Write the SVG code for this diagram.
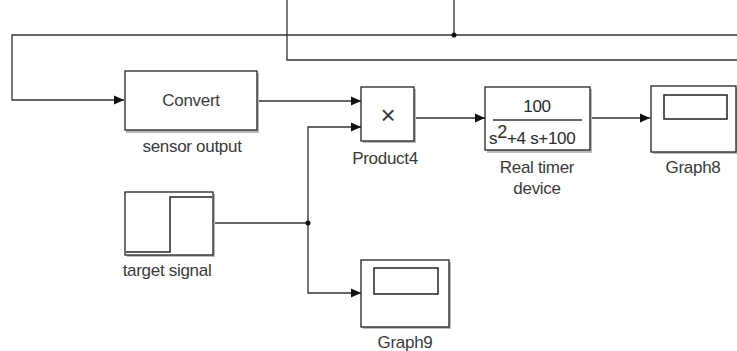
<svg xmlns="http://www.w3.org/2000/svg" width="737" height="351" viewBox="0 0 737 351">
<defs>
<marker id="arr" markerUnits="userSpaceOnUse" markerWidth="11" markerHeight="10" refX="10" refY="5" orient="auto">
<path d="M0,0.5 L10,5 L0,9.5 z" fill="#111"/>
</marker>
<style>
.blk{fill:#fff;stroke:#222;stroke-width:1.3}
.sh{fill:#bbb}
.ln{fill:none;stroke:#333;stroke-width:1.3}
.t{font-family:"Liberation Sans",Arial,sans-serif;font-size:17px;fill:#3a3a3a;text-anchor:middle;letter-spacing:-0.3px}
.f{font-family:"Liberation Sans",Arial,sans-serif;font-size:17px;fill:#2a2a2a;letter-spacing:-0.3px}
</style>
</defs>
<rect width="737" height="351" fill="#fff"/>
<g id="connectors">
<path class="ln" d="M287,0 V60 H737"/>
<path class="ln" d="M454,0 V35"/>
<path class="ln" d="M737,35 H12 V100 H124" marker-end="url(#arr)"/>
<path class="ln" d="M257,101 H361" marker-end="url(#arr)"/>
<path class="ln" d="M213,223 H308"/>
<path class="ln" d="M308,223 V127 H361" marker-end="url(#arr)"/>
<path class="ln" d="M308,223 V293 H361" marker-end="url(#arr)"/>
<path class="ln" d="M414,118 H485" marker-end="url(#arr)"/>
<path class="ln" d="M590,118 H650" marker-end="url(#arr)"/>
<circle cx="454" cy="35" r="2.5" fill="#111"/>
<circle cx="308" cy="223" r="2.5" fill="#111"/>
</g>
<g id="convert">
<rect class="sh" x="126" y="73" width="133" height="60"/>
<rect class="blk" x="125" y="71" width="132" height="59"/>
<text class="t" x="191" y="106">Convert</text>
<text class="t" x="192" y="152">sensor output</text>
</g>
<g id="product4">
<rect class="sh" x="363" y="89" width="53" height="54"/>
<rect class="blk" x="361" y="87" width="53" height="54"/>
<text class="t" x="388" y="124" style="font-size:26px">×</text>
<text class="t" x="385" y="164">Product4</text>
</g>
<g id="transfer">
<rect class="sh" x="487" y="89" width="105" height="64"/>
<rect class="blk" x="485" y="87" width="105" height="63"/>
<text class="t" x="537" y="112" style="fill:#2a2a2a">100</text>
<line x1="493" y1="120" x2="582" y2="120" stroke="#333" stroke-width="1.6"/>
<text class="f" x="489" y="144">s<tspan dy="-6" style="font-size:18px">2</tspan><tspan dy="6">+4 s+100</tspan></text>
<text class="t" x="537" y="173">Real timer</text>
<text class="t" x="537" y="194">device</text>
</g>
<g id="graph8">
<rect class="sh" x="653" y="88" width="84" height="66"/>
<rect class="blk" x="651" y="86" width="85" height="66"/>
<rect x="664" y="95" width="63" height="24" fill="#fff" stroke="#222" stroke-width="1.5"/>
<text class="t" x="693" y="173">Graph8</text>
</g>
<g id="target">
<rect class="sh" x="127" y="194" width="88" height="63"/>
<rect class="blk" x="125" y="192" width="88" height="63"/>
<path d="M126,252 H170 V197 H212" fill="none" stroke="#222" stroke-width="1.5"/>
<text class="t" x="167" y="276">target signal</text>
</g>
<g id="graph9">
<rect class="sh" x="363" y="262" width="88" height="67"/>
<rect class="blk" x="361" y="260" width="88" height="67"/>
<rect x="374" y="268" width="64" height="26" fill="#fff" stroke="#222" stroke-width="1.5"/>
<text class="t" x="405" y="348">Graph9</text>
</g>
</svg>
